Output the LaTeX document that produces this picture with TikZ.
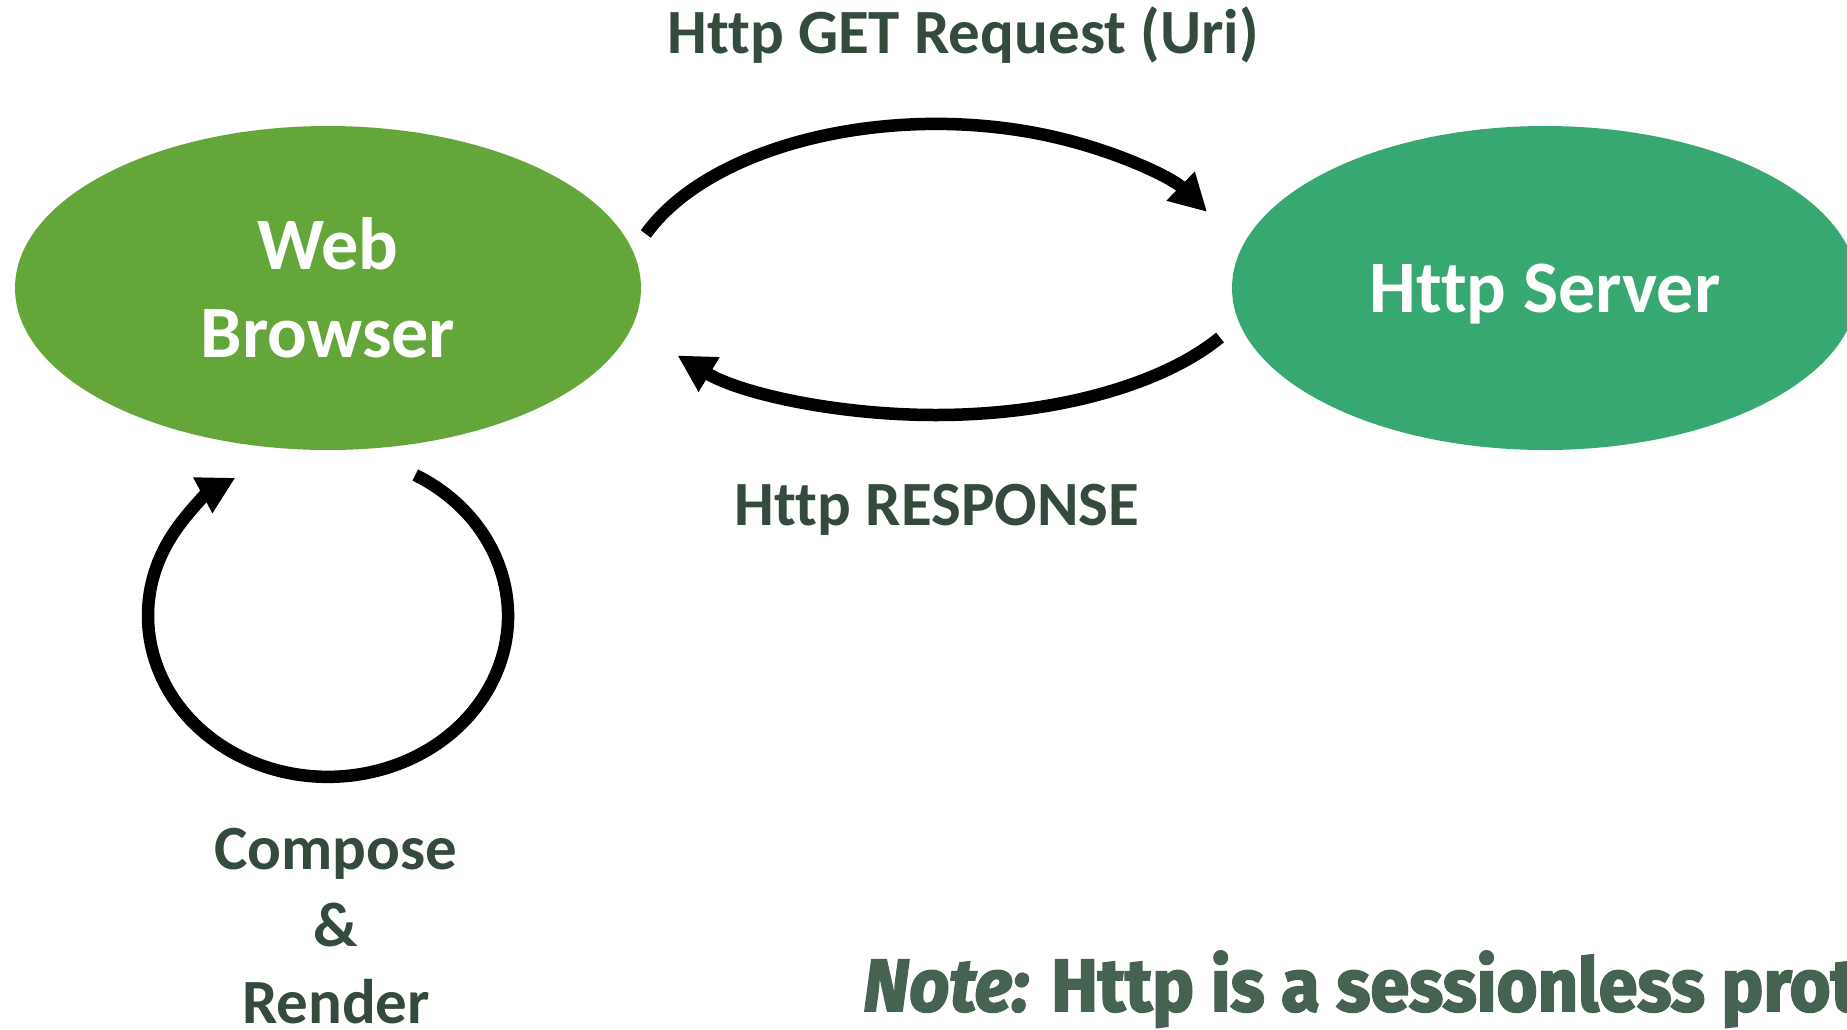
\documentclass[tikz,border=0pt]{standalone}
\usepackage{fontspec}
\setmainfont{Carlito}[Ligatures={NoCommon}]
\newfontfamily\notefont{Fira Sans}[FakeStretch=0.95, FakeBold=2.5, Ligatures={NoCommon}]
\usetikzlibrary{arrows.meta,shapes.geometric}
\definecolor{browsergreen}{RGB}{100,166,58}
\definecolor{servergreen}{RGB}{56,168,114}
\definecolor{labelink}{RGB}{52,74,60}
\definecolor{noteink}{RGB}{70,98,80}
\begin{document}
\begin{tikzpicture}[x=1pt,y=1pt,
  blob/.style={ellipse, minimum width=626pt, minimum height=324pt, inner sep=0pt,
    text=white, font=\bfseries\fontsize{74}{88}\selectfont, align=center, text depth=0pt},
  lbl/.style={text=labelink, font=\bfseries\fontsize{63}{77}\selectfont, inner sep=0pt, align=center},
  flow/.style={draw=black, line width=12.5pt, -{Triangle[length=37pt,width=38pt]}}]
\useasboundingbox (0,0) rectangle (1847,-1029);
\clip (0,0) rectangle (1847,-1029);
\fill[white] (0,0) rectangle (1847,-1029);

% the two parties
\node[blob, fill=browsergreen] (browser) at (328,-288) {Web\\Browser};
\node[blob, fill=servergreen] (server) at (1545,-288) {Http Server};

% labels
\node[lbl, anchor=base] (getlbl) at (963,-53) {Http GET Request (Uri)};
\node[lbl, anchor=base] (resplbl) at (937,-525) {Http RESPONSE};
\node[lbl, text depth=0pt] (renderlbl) at (336,-926) {Compose\\\&\\Render};

% request: browser to server
\coordinate (reqS) at (645.8,-234);
\draw[flow] (reqS) arc[start angle=158, end angle=30, x radius=313, y radius=176];

% response: server to browser
\coordinate (respS) at (1220,-337.5);
\draw[flow] (respS) arc[start angle=-30, end angle=-142, x radius=328, y radius=155];

% compose and render loop on the browser
\coordinate (loopS) at (415.3,-475);
\draw[flow] (loopS) arc[start angle=61, end angle=-239, x radius=180, y radius=161];

% footnote
\node[anchor=base west, inner sep=0pt, text=noteink,
  font=\notefont\bfseries\fontsize{74}{80}\selectfont] (note) at (863,-1011)
  {\itshape Note:\upshape{} Http is a sessionless protocol};
\end{tikzpicture}
\end{document}
